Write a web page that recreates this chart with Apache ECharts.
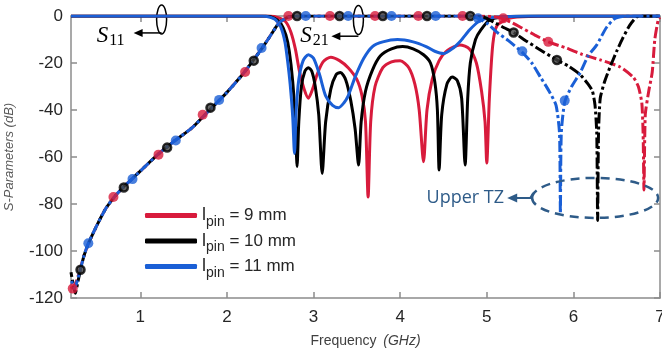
<!DOCTYPE html>
<html>
<head>
<meta charset="utf-8">
<script src="https://cdn.jsdelivr.net/npm/echarts@6.0.0/dist/echarts.min.js"></script>
<style>
  html, body { margin: 0; padding: 0; background: #fff; }
  #chart { width: 662px; height: 351px; }
</style>
</head>
<body>
<div id="chart"></div>
<script>
// x tick values (GHz)
const xTicks = [1, 2, 3, 4, 5, 6, 7];

// S11 (solid) per pin length: [GHz, dB]
const s11Red = [[0.2,0],[2.5,0],[2.6,-0.8],[2.68,-2.5],[2.74,-7],[2.79,-14],[2.84,-24],[2.89,-31],[2.94,-35],[2.99,-31],[3.04,-25],[3.11,-19.5],[3.2,-17.5],[3.3,-19],[3.4,-22],[3.5,-27],[3.56,-34],[3.6,-45],[3.63,-77],[3.66,-45],[3.71,-30],[3.8,-22],[3.9,-19.5],[4.0,-19],[4.1,-22],[4.17,-29],[4.22,-40],[4.27,-62],[4.31,-40],[4.37,-27],[4.45,-19],[4.55,-14.5],[4.69,-12.3],[4.8,-14],[4.88,-20],[4.94,-32],[4.98,-45],[5.0,-62.6],[5.03,-35],[5.07,-12],[5.12,-4],[5.27,-0.9],[5.5,-0.2],[6,0],[7,0]];
const s11Black = [[0.2,0],[2.45,0],[2.55,-1],[2.62,-3],[2.68,-8],[2.72,-15],[2.76,-28],[2.79,-45],[2.81,-64],[2.83,-45],[2.86,-30],[2.9,-23.5],[2.94,-22],[2.98,-23.5],[3.02,-30],[3.06,-42],[3.1,-67],[3.14,-45],[3.2,-31],[3.26,-25],[3.31,-24],[3.37,-27],[3.43,-36],[3.48,-48],[3.52,-63.4],[3.55,-45],[3.6,-32],[3.68,-23],[3.77,-17],[3.9,-14],[4.03,-13],[4.15,-14],[4.27,-16.5],[4.35,-20],[4.4,-28],[4.43,-40],[4.45,-65.5],[4.48,-42],[4.54,-29],[4.6,-26],[4.66,-27.5],[4.71,-35],[4.75,-63.4],[4.78,-35],[4.81,-20],[4.87,-10],[4.93,-6],[5.04,-1.5],[5.2,-0.4],[5.5,0],[7,0]];
const s11Blue = [[0.2,0],[2.4,0],[2.5,-0.5],[2.56,-1.5],[2.62,-4.5],[2.67,-11],[2.7,-19],[2.73,-29],[2.76,-43],[2.78,-58.5],[2.8,-40],[2.83,-27],[2.88,-19],[2.94,-16.5],[3.0,-18],[3.07,-25],[3.14,-34],[3.22,-38],[3.29,-39],[3.35,-37],[3.4,-34],[3.48,-26],[3.58,-18],[3.68,-13],[3.8,-11],[3.97,-10],[4.15,-11],[4.3,-13],[4.4,-15],[4.5,-16],[4.6,-14],[4.7,-10.5],[4.8,-6],[4.9,-2.5],[5.0,-1],[5.2,-0.3],[5.5,0],[7,0]];

// S21 (dash-dot) per pin length: [GHz, dB]
const s21Red = [[0.2,-116],[0.25,-114],[0.3,-108.5],[0.35,-102],[0.4,-97],[0.5,-89],[0.6,-82],[0.7,-77],[0.8,-73],[0.9,-69.5],[1.0,-66],[1.2,-59],[1.4,-53],[1.6,-47.5],[1.8,-40],[2.0,-32.5],[2.2,-24],[2.4,-14],[2.5,-8.5],[2.6,-3],[2.7,-0.6],[2.8,0],[4.9,0],[5.05,-0.2],[5.15,-0.8],[5.27,-2.5],[5.4,-5],[5.55,-8],[5.71,-11],[5.93,-13.8],[6.1,-16.3],[6.31,-18.7],[6.54,-21.7],[6.69,-26],[6.75,-30],[6.79,-37],[6.805,-50],[6.815,-74],[6.83,-42],[6.87,-32],[6.91,-24],[6.94,-10],[6.98,-1.5],[7.0,-0.5]];
const s21Black = [[0.2,-109],[0.25,-118],[0.28,-113],[0.31,-108],[0.35,-102],[0.4,-97],[0.5,-89],[0.6,-82],[0.7,-77],[0.8,-73],[0.9,-69.5],[1.0,-66],[1.2,-59],[1.4,-53],[1.6,-47.5],[1.8,-40],[2.0,-32.5],[2.2,-24],[2.4,-14],[2.5,-8.5],[2.6,-3],[2.7,-0.6],[2.8,0],[4.85,0],[4.95,-0.3],[5.0,-1],[5.1,-3],[5.2,-5],[5.31,-7],[5.45,-10.5],[5.6,-14],[5.79,-18.3],[5.95,-21.5],[6.08,-25],[6.17,-29],[6.22,-32],[6.25,-38],[6.27,-50],[6.28,-87],[6.29,-50],[6.31,-35],[6.36,-28],[6.42,-22],[6.5,-15],[6.57,-9.4],[6.65,-4],[6.73,-0.4],[6.8,0],[7.0,0]];
const s21Blue = [[0.2,-112],[0.24,-116],[0.27,-113],[0.3,-109],[0.35,-102],[0.4,-96.7],[0.5,-89],[0.6,-82],[0.7,-77],[0.8,-73],[0.9,-69.5],[1.0,-66],[1.2,-59],[1.4,-53],[1.6,-47.5],[1.8,-40],[2.0,-32.5],[2.2,-24],[2.4,-14],[2.5,-8.5],[2.6,-3],[2.7,-0.6],[2.8,0],[4.8,0],[4.85,-0.3],[4.9,-1],[5.0,-3],[5.12,-7],[5.25,-10.5],[5.41,-15.5],[5.52,-20],[5.62,-26],[5.72,-32],[5.8,-38],[5.84,-50],[5.85,-84],[5.86,-50],[5.9,-36.6],[5.98,-30],[6.08,-24],[6.17,-17],[6.27,-12.3],[6.38,-5],[6.48,-1],[6.6,0],[7.0,0]];

// circle markers sitting on the S21 curves
const mkRed = [[0.22,-116],[0.69,-77],[1.21,-59],[1.72,-42],[2.21,-23.8],[2.71,0],[3.19,0],[3.71,0],[4.21,0],[4.72,0],[5.19,-1],[5.71,-11]];
const mkBlack = [[0.31,-108],[0.81,-73],[1.31,-56],[1.81,-39],[2.31,-19],[2.81,0],[3.3,0],[3.8,0],[4.31,0],[4.81,0],[5.31,-7],[5.81,-18.7]];
const mkBlue = [[0.4,-96.7],[0.91,-69.4],[1.41,-53],[1.91,-35.7],[2.4,-13.6],[2.91,0],[3.4,0],[3.9,0],[4.41,0],[4.9,-1],[5.41,-15],[5.9,-36]];

const colors = ['#d81b3c', '#000000', '#1a5fd6'];
const axisGray = '#8c8c8c';

const chart = echarts.init(document.getElementById('chart'));

function s11Line(name, data, color) {
  return {
    name: name, type: 'line', data: data, showSymbol: false, smooth: 0.25,
    lineStyle: { color: color, width: 3 }, itemStyle: { color: color }, z: 3
  };
}
function s21Line(name, data, color, offset) {
  return {
    name: name, type: 'line', data: data, showSymbol: false, smooth: 0.2,
    lineStyle: { color: color, width: 3, type: [11, 3, 3, 3], dashOffset: offset },
    itemStyle: { color: color }, z: 4
  };
}
function markers(name, data, color, hollow) {
  return {
    name: name, type: 'scatter', data: data, symbolSize: hollow ? 8 : 10,
    itemStyle: hollow ? { color: '#444', borderColor: color, borderWidth: 2.5 } : { color: color },
    z: 5
  };
}

const option = {
  animation: false,
  backgroundColor: '#fff',
  grid: { left: 71, right: 2, top: 16, bottom: 53, outerBoundsMode: 'none', containLabel: false },
  xAxis: [
    {
      type: 'value', min: 0.2, max: 7, position: 'bottom',
      name: '{a|Frequency}  {b|(GHz)}', nameLocation: 'middle', nameGap: 36,
      nameTextStyle: { rich: {
        a: { fontFamily: 'Liberation Sans', fontSize: 14, color: '#404040' },
        b: { fontFamily: 'Liberation Sans', fontSize: 14, color: '#404040', fontStyle: 'italic' }
      } },
      axisLine: { show: true, onZero: false, lineStyle: { color: axisGray, width: 1.5 } },
      axisTick: { inside: true, length: 6, customValues: xTicks, lineStyle: { color: axisGray, width: 1.5 } },
      axisLabel: { customValues: xTicks, fontFamily: 'Liberation Sans', fontSize: 17, color: '#262626', margin: 11 },
      splitLine: { show: false }
    },
    {
      type: 'value', min: 0.2, max: 7, position: 'top',
      axisLine: { show: true, onZero: false, lineStyle: { color: axisGray, width: 1.5 } },
      axisTick: { inside: true, length: 6, customValues: xTicks, lineStyle: { color: axisGray, width: 1.5 } },
      axisLabel: { show: false }, splitLine: { show: false }
    }
  ],
  yAxis: [
    {
      type: 'value', min: -120, max: 0, interval: 20, position: 'left',
      name: 'S-Parameters (dB)', nameLocation: 'middle', nameGap: 55,
      nameTextStyle: { fontFamily: 'Liberation Sans', fontSize: 13, fontStyle: 'italic', color: '#595959' },
      axisLine: { show: true, onZero: false, lineStyle: { color: axisGray, width: 1.5 } },
      axisTick: { inside: true, length: 6, lineStyle: { color: axisGray, width: 1.5 } },
      axisLabel: { fontFamily: 'Liberation Sans', fontSize: 17, color: '#262626', margin: 8 },
      splitLine: { show: false }
    },
    {
      type: 'value', min: -120, max: 0, interval: 20, position: 'right',
      axisLine: { show: true, onZero: false, lineStyle: { color: axisGray, width: 1.5 } },
      axisTick: { inside: true, length: 6, lineStyle: { color: axisGray, width: 1.5 } },
      axisLabel: { show: false }, splitLine: { show: false }
    }
  ],
  legend: {
    data: ['l9', 'l10', 'l11'],
    orient: 'vertical', left: 140, top: 197, itemGap: -1.5,
    itemWidth: 52, itemHeight: 5, icon: 'roundRect',
    formatter: function (name) {
      return '{l|l}{p|pin}{t| = ' + name.slice(1) + ' mm}';
    },
    textStyle: { rich: {
      l: { fontFamily: 'Liberation Sans', fontSize: 18, color: '#262626', lineHeight: 20 },
      p: { fontFamily: 'Liberation Sans', fontSize: 14, color: '#262626', lineHeight: 14, padding: [13, 0, 0, 0] },
      t: { fontFamily: 'Liberation Sans', fontSize: 17, color: '#262626', lineHeight: 20 }
    } }
  },
  series: [
    s11Line('l9', s11Red, colors[0]),
    s11Line('l10', s11Black, colors[1]),
    s11Line('l11', s11Blue, colors[2]),
    s21Line('s21_9', s21Red, colors[0], 0),
    s21Line('s21_10', s21Black, colors[1], 6),
    s21Line('s21_11', s21Blue, colors[2], 12),
    markers('mk9', mkRed, colors[0], false),
    markers('mk10', mkBlack, colors[1], true),
    markers('mk11', mkBlue, colors[2], false)
  ]
};
chart.setOption(option);

// annotations positioned from data coordinates
function P(p) { return chart.convertToPixel({ xAxisIndex: 0, yAxisIndex: 0 }, p); }
function arrowLeft(from, tip, color) {
  const a = P(from), b = P(tip);
  return [
    { type: 'line', shape: { x1: a[0], y1: a[1], x2: b[0] + 6, y2: b[1] }, style: { stroke: color, lineWidth: 1.5 } },
    { type: 'polygon', shape: { points: [[b[0], b[1]], [b[0] + 9, b[1] - 4], [b[0] + 9, b[1] + 4]] }, style: { fill: color } }
  ];
}
function ringAt(c) {
  const p = P(c);
  return { type: 'ellipse', shape: { cx: p[0], cy: p[1], rx: 5, ry: 14.5 }, style: { fill: 'none', stroke: '#000', lineWidth: 1.5 } };
}
function sLabel(c, sub) {
  const p = P(c);
  return {
    type: 'text', x: p[0], y: p[1],
    style: {
      text: '{s|S}{n|' + sub + '}', align: 'center', verticalAlign: 'middle',
      rich: {
        s: { fontFamily: 'Liberation Serif', fontStyle: 'italic', fontSize: 23, fill: '#000', lineHeight: 22 },
        n: { fontFamily: 'Liberation Serif', fontSize: 16, fill: '#000', lineHeight: 16, padding: [10, 0, 0, 1] }
      }
    }
  };
}
const tzColor = '#2e5b88';
const tzC = P([6.251, -77.4]);
const tzKink = P([5.536, -75.3]);
const tzMid = P([5.502, -77.4]);
const tzTip = P([5.236, -77.4]);
const tzText = P([4.752, -77.4]);
const graphics = [
  ringAt([1.246, -1.5]),
  ...arrowLeft([1.246, -7.2], [0.923, -7.2], '#000'),
  sLabel([0.657, -8.6], '11'),
  ringAt([3.518, -1.7]),
  ...arrowLeft([3.518, -8.6], [3.206, -8.6], '#000'),
  sLabel([3.01, -8.6], '21'),
  { type: 'ellipse', shape: { cx: tzC[0], cy: tzC[1], rx: 63, ry: 20 },
    style: { fill: 'none', stroke: tzColor, lineWidth: 2.5, lineDash: [9, 6] }, z: 10 },
  { type: 'polyline', shape: { points: [tzKink, tzMid, [tzTip[0] + 6, tzTip[1]]] }, style: { stroke: tzColor, lineWidth: 2, fill: 'none' }, z: 10 },
  { type: 'polygon', shape: { points: [[tzTip[0], tzTip[1]], [tzTip[0] + 10, tzTip[1] - 4.5], [tzTip[0] + 10, tzTip[1] + 4.5]] }, style: { fill: tzColor }, z: 10 },
  { type: 'text', x: tzText[0], y: tzText[1], z: 10,
    style: { text: 'Upper TZ', fontFamily: 'Open Sans', fontSize: 18, fill: tzColor, align: 'center', verticalAlign: 'middle' } }
];
chart.setOption({ graphic: graphics });
</script>
</body>
</html>
